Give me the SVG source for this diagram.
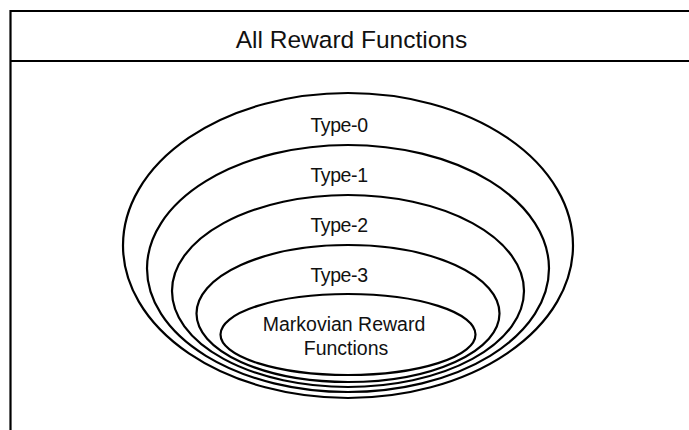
<svg xmlns="http://www.w3.org/2000/svg" width="689" height="430" viewBox="0 0 689 430">
  <style>
    .frame { fill: none; stroke: #000; stroke-width: 2.2; }
    .set { fill: none; stroke: #000; stroke-width: 2.2; }
    .title { font-family: "Liberation Sans", Arial, sans-serif; font-size: 24.5px; fill: #111; text-anchor: middle; }
    .label { font-family: "Liberation Sans", Arial, sans-serif; font-size: 19.5px; fill: #111; text-anchor: middle; }
    .tight { letter-spacing: -0.4px; }
  </style>
  <rect width="689" height="430" fill="#fff"/>

  <!-- outer frame: universe of reward functions -->
  <g id="all-reward-functions">
    <path class="frame" d="M689 11 H10.5 V432"/>
    <line class="frame" x1="10.5" y1="61" x2="689" y2="61"/>
    <text class="title" x="351.5" y="48">All Reward Functions</text>
  </g>

  <!-- nested sets, outermost first -->
  <g id="type-0">
    <ellipse class="set" cx="348" cy="245.5" rx="225" ry="152.5"/>
    <text class="label tight" x="339" y="132">Type-0</text>
  </g>
  <g id="type-1">
    <ellipse class="set" cx="348" cy="268.5" rx="201" ry="123.5"/>
    <text class="label tight" x="339" y="182">Type-1</text>
  </g>
  <g id="type-2">
    <ellipse class="set" cx="348" cy="291" rx="176" ry="96"/>
    <text class="label tight" x="339" y="232">Type-2</text>
  </g>
  <g id="type-3">
    <ellipse class="set" cx="348" cy="313.5" rx="151.5" ry="68.5"/>
    <text class="label tight" x="339" y="282">Type-3</text>
  </g>
  <g id="markovian">
    <ellipse class="set" cx="348" cy="334.5" rx="127.5" ry="40.5"/>
    <text class="label" x="344" y="331">Markovian Reward</text>
    <text class="label" x="346" y="355">Functions</text>
  </g>

  <g id="connectors"/>
</svg>
